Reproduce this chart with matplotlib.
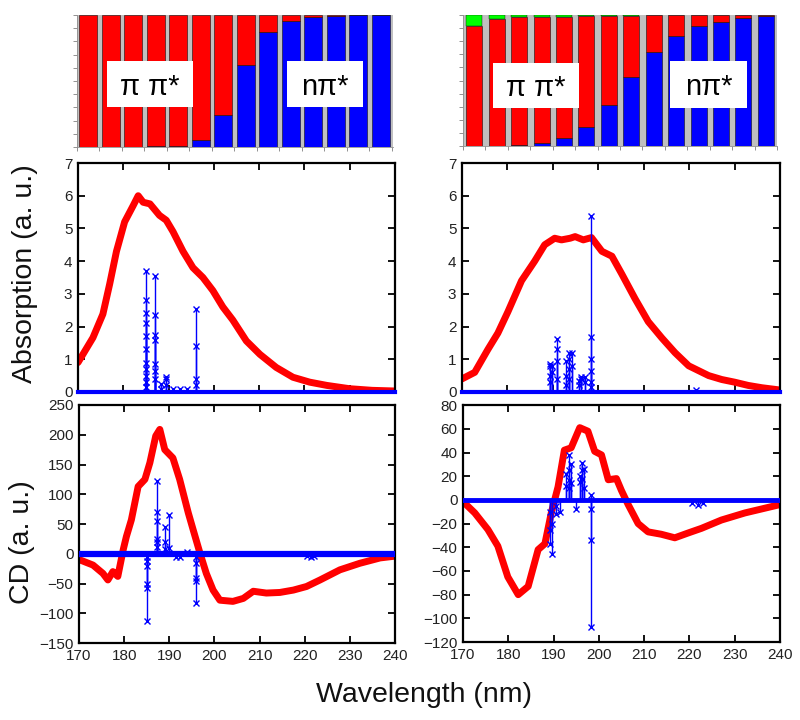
import matplotlib
matplotlib.use("Agg")
import matplotlib.pyplot as plt
from matplotlib.patches import Rectangle
import numpy as np

plt.rcParams['font.family'] = ['Liberation Sans', 'DejaVu Sans']

# ---------------- data ----------------
# composition bars (fractions)
left_blue = [0, 0, 0, 0.005, 0.01, 0.05, 0.24, 0.62, 0.87, 0.957, 0.987, 0.99, 0.998, 1.0]
left_red = [1.0, 1.0, 1.0, 0.995, 0.99, 0.95, 0.76, 0.38, 0.13, 0.043, 0.013, 0.01, 0.002, 0.0]
right_blue = [0, 0.003, 0.008, 0.025, 0.063, 0.147, 0.31, 0.527, 0.72, 0.84, 0.92, 0.95, 0.98, 0.99]
right_red = [0.92, 0.967, 0.974, 0.96, 0.922, 0.843, 0.685, 0.468, 0.28, 0.16, 0.08, 0.05, 0.02, 0.01]
right_green = [0.08, 0.03, 0.018, 0.015, 0.015, 0.01, 0.005, 0.005, 0, 0, 0, 0, 0, 0]

# absorption curves
abs_left_wl = [170, 173.3, 175.5, 177, 178.5, 180.3, 182.2, 183.3, 184.4, 185.9, 188, 189.5, 191,
               193.2, 195.4, 197.6, 199.8, 202, 204.2, 207.2, 210.2, 213.8, 217.5, 221.2, 225,
               230, 235, 240]
abs_left = [0.9, 1.66, 2.38, 3.3, 4.3, 5.2, 5.7, 6.0, 5.8, 5.75, 5.4, 5.25, 4.9, 4.3, 3.8, 3.5,
            3.1, 2.6, 2.2, 1.56, 1.15, 0.75, 0.45, 0.3, 0.2, 0.1, 0.05, 0.03]
abs_right_wl = [170, 172.8, 175.7, 177.9, 180.1, 183.1, 186, 188.2, 190.4, 191.9, 193.8, 194.9,
                196.7, 198.5, 200.8, 203, 205.2, 208.1, 211, 214, 216.9, 219.9, 224.3, 227.2,
                230, 233, 236, 240]
abs_right = [0.4, 0.6, 1.3, 1.8, 2.45, 3.4, 4.0, 4.5, 4.7, 4.65, 4.7, 4.75, 4.65, 4.72, 4.3, 4.15,
             3.6, 2.85, 2.15, 1.65, 1.2, 0.8, 0.5, 0.38, 0.3, 0.2, 0.13, 0.06]

# CD curves
cd_left_wl = [170.1, 173.1, 175.3, 176.4, 177.5, 178.6, 179.8, 180.5, 181.6, 183.1, 184.6, 185.7,
              187.0, 187.9, 189, 190.8, 192.3, 194.2, 195.3, 196.8, 198.2, 199.7, 201.2, 204.1,
              206.4, 208.6, 211.5, 214.5, 217.5, 220.4, 223.4, 227.8, 232.2, 236.7, 240]
cd_left = [-10, -19, -33, -44, -30, -38, 7, 29, 57, 113, 125, 153, 198, 209, 175, 161, 125, 69, 40,
           1, -33, -61, -78, -80, -75, -63, -66, -65, -61, -55, -44, -27, -16, -7, -4]
cd_right_wl = [170, 172.6, 175.5, 177.7, 179.9, 182.2, 184.4, 186.6, 188.1, 189.5, 191, 192.4,
               193.9, 195.8, 197.6, 199.1, 200.6, 202.1, 203.9, 205, 206.5, 208.7, 210.9, 213.8,
               216.8, 219.7, 222.7, 227.1, 232.3, 240]
cd_right = [-1.4, -11, -25, -39, -65, -80, -73, -42, -37, -11, 11, 42, 44, 61, 58, 41, 38, 17, 18,
            8, -4, -20, -27, -29, -32, -28, -24, -17, -11, -4]

# stick spectra: wavelength, intensity (several states may share a wavelength)
abs_left_stick_wl = [185.0] * 11 + [187.1] * 7 + [188.4] * 2 + [189.4] * 3 + [191.0, 192.5, 194.0] + [196.0] * 4
abs_left_stick = [3.7, 2.8, 2.4, 2.1, 1.7, 1.3, 0.9, 0.7, 0.5, 0.3, 0.15,
                  3.55, 2.35, 1.75, 1.6, 0.85, 0.65, 0.4,
                  0.25, 0.1,
                  0.45, 0.4, 0.2,
                  0.1, 0.08, 0.1,
                  2.55, 1.4, 0.4, 0.2]
abs_right_stick_wl = ([189.4] * 4 + [189.9] * 2 + [191.0] * 4 + [192.8] * 3 + [193.6] * 4 +
                      [194.2] * 2 + [195.7] * 2 + [196.3] * 2 + [197.0] * 2 + [198.4] * 6 + [221.5])
abs_right_stick = [0.85, 0.8, 0.5, 0.3,
                   0.8, 0.6,
                   1.62, 1.3, 0.95, 0.4,
                   0.95, 0.5, 0.2,
                   1.2, 1.0, 0.7, 0.4,
                   1.2, 0.8,
                   0.35, 0.2,
                   0.45, 0.4,
                   0.45, 0.3,
                   5.38, 1.68, 1.0, 0.65, 0.3, 0.15,
                   0.05]
cd_left_stick_wl = ([185.1] * 6 + [187.2] * 6 + [189.0] * 3 + [189.9] * 2 + [191.5, 192.3, 193.9] +
                    [195.9] * 5 + [220.5, 221.5, 222.0])
cd_left_stick = [-113, -57, -50, -20, -12, -5,
                 122, 70, 55, 25, 20, 12,
                 45, 20, 8,
                 65, 10,
                 -5, -6, 3,
                 -83, -45, -40, -15, -5,
                 -4, -5, -4]
cd_right_stick_wl = ([189.2] * 3 + [189.7] * 2 + [190.5] * 2 + [191.4, 192.8, 192.8] + [193.4] * 4 +
                     [193.9] * 2 + [195.0, 195.8, 195.8] + [196.3] * 3 + [196.8] * 2 + [198.2] * 4 +
                     [220.5, 222.0, 223.0])
cd_right_stick = [-37, -25, -10,
                  -46, -20,
                  -12, -5,
                  -10, 12, 22,
                  38, 25, 17, 10,
                  30, 14,
                  -8, 15, 20,
                  31, 25, 18,
                  26, 10,
                  -107, -34, -8, 4,
                  -3, -4, -3]

xticks = [170, 180, 190, 200, 210, 220, 230, 240]

RED = '#ff0000'
BLUE = '#0000ff'
GREEN = '#00ff00'
GRAY = '#c0c0c0'

fig = plt.figure(figsize=(8, 7.2), dpi=100)

# ---------------- bar panels ----------------
def bar_panel(rect, blue, red, green, width, xlim, boxes):
    ax = fig.add_axes(rect)
    ax.set_facecolor(GRAY)
    x = np.arange(len(blue))
    blue = np.array(blue, float)
    red = np.array(red, float)
    ax.bar(x, blue, width, color=BLUE, edgecolor='#101010', linewidth=0.4)
    ax.bar(x, red, width, bottom=blue, color=RED, edgecolor='#101010', linewidth=0.4)
    if green is not None:
        green = np.array(green, float)
        ax.bar(x, green, width, bottom=blue + red, color=GREEN, edgecolor='#101010', linewidth=0.3)
    ax.set_xlim(*xlim)
    ax.set_ylim(0, 1)
    ax.set_yticks(np.linspace(0, 1, 11))
    ax.set_xticks(np.arange(len(blue) + 1) - 0.5)
    ax.set_xticklabels([])
    ax.set_yticklabels([])
    ax.tick_params(direction='out', length=3, width=0.6, color='#808080')
    for s in ['top', 'right']:
        ax.spines[s].set_visible(False)
    for s in ['left', 'bottom']:
        ax.spines[s].set_color('#909090')
        ax.spines[s].set_linewidth(0.6)
    for (x0, x1, y0, y1, txt) in boxes:
        ax.add_patch(Rectangle((x0, y0), x1 - x0, y1 - y0, transform=ax.transAxes,
                               facecolor='white', edgecolor='none', zorder=5))
        ax.text((x0 + x1) / 2, (y0 + y1) / 2 - 0.02, txt, transform=ax.transAxes,
                ha='center', va='center', fontsize=21, zorder=6, color='black')
    return ax

bar_panel([0.09625, 0.7958, 0.395, 0.1833], left_blue, left_red, None, 0.8, (-0.5, 13.55),
          [(0.095, 0.367, 0.303, 0.652, 'π π*'), (0.665, 0.905, 0.303, 0.652, 'nπ*')])
bar_panel([0.5788, 0.7972, 0.3925, 0.1819], right_blue, right_red, right_green, 0.71, (-0.43, 13.5),
          [(0.096, 0.369, 0.29, 0.634, 'π π*'), (0.659, 0.904, 0.29, 0.649, 'nπ*')])

# ---------------- spectra panels ----------------
def style(ax, ylim, yticks, xlabels):
    ax.set_xlim(170, 240)
    ax.set_ylim(*ylim)
    ax.set_xticks(xticks)
    ax.set_yticks(yticks)
    if not xlabels:
        ax.set_xticklabels([])
    ax.tick_params(direction='in', length=5, width=1.3, top=True, right=True,
                   labelsize=11, labelcolor='#222222', pad=4)
    for s in ax.spines.values():
        s.set_linewidth(1.6)

def sticks(ax, wl, val):
    ax.vlines(wl, 0, val, color=BLUE, linewidth=1.0, zorder=3)
    ax.plot(wl, val, linestyle='none', marker='x', markersize=5, mew=1.0, color=BLUE, zorder=3)

ax1 = fig.add_axes([0.0975, 0.4556, 0.396, 0.318])
ax1.plot(abs_left_wl, abs_left, color=RED, linewidth=5, solid_capstyle='round', zorder=2)
sticks(ax1, abs_left_stick_wl, abs_left_stick)
ax1.axhline(0, color=BLUE, linewidth=3, zorder=4, clip_on=False)
style(ax1, (0, 7), range(0, 8), False)

ax2 = fig.add_axes([0.5775, 0.4556, 0.3975, 0.318])
ax2.plot(abs_right_wl, abs_right, color=RED, linewidth=5, solid_capstyle='round', zorder=2)
sticks(ax2, abs_right_stick_wl, abs_right_stick)
ax2.axhline(0, color=BLUE, linewidth=3, zorder=4, clip_on=False)
style(ax2, (0, 7), range(0, 8), False)

ax3 = fig.add_axes([0.09875, 0.1069, 0.395, 0.3306])
ax3.plot(cd_left_wl, cd_left, color=RED, linewidth=5, solid_capstyle='round', zorder=2)
sticks(ax3, cd_left_stick_wl, cd_left_stick)
ax3.axhline(0, color=BLUE, linewidth=4.5, zorder=3)
style(ax3, (-150, 250), range(-150, 251, 50), True)

ax4 = fig.add_axes([0.57875, 0.1083, 0.396, 0.329])
ax4.plot(cd_right_wl, cd_right, color=RED, linewidth=5, solid_capstyle='round', zorder=2)
sticks(ax4, cd_right_stick_wl, cd_right_stick)
ax4.axhline(0, color=BLUE, linewidth=3.5, zorder=3)
style(ax4, (-120, 80), range(-120, 81, 20), True)

fig.text(0.53, 0.035, 'Wavelength (nm)', ha='center', va='center', fontsize=20.5, color='#111111')
fig.text(0.031, 0.62, 'Absorption (a. u.)', ha='center', va='center', rotation=90,
         fontsize=20.5, color='#111111')
fig.text(0.028, 0.247, 'CD (a. u.)', ha='center', va='center', rotation=90,
         fontsize=20.5, color='#111111')

fig.savefig('out.png', dpi=100)
